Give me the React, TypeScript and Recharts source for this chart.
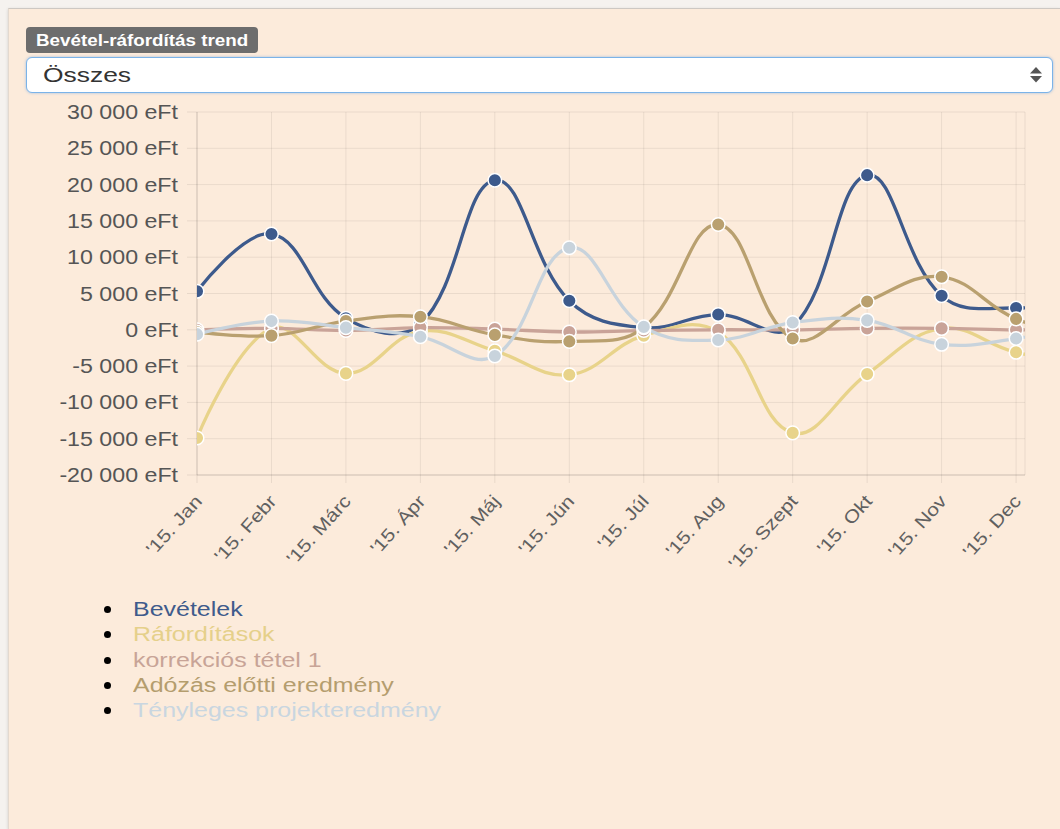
import React from 'react';
import { LineChart, Line, XAxis, YAxis, CartesianGrid } from 'recharts';

// ---- data ----
const months = ["'15. Jan", "'15. Febr", "'15. Márc", "'15. Ápr", "'15. Máj", "'15. Jún", "'15. Júl", "'15. Aug", "'15. Szept", "'15. Okt", "'15. Nov", "'15. Dec", "'16. Jan"];
const bevetelek = [5300, 13200, 1600, 800, 20600, 4000, 300, 2100, 400, 21300, 4700, 3000, 4200];
const raforditasok = [-14900, 200, -6000, -200, -2900, -6200, -800, -300, -14200, -6100, 200, -3100, -4500];
const korrekcio = [0, 200, -100, 300, 100, -300, -100, 0, 0, 200, 200, 0, 0];
const adozas = [-300, -800, 1200, 1800, -700, -1600, 300, 14500, -1200, 3900, 7300, 1500, -1000];
const tenyleges = [-600, 1200, 300, -950, -3600, 11300, 400, -1400, 1000, 1300, -2000, -1200, 800];
const yTicks = [30000, 25000, 20000, 15000, 10000, 5000, 0, -5000, -10000, -15000, -20000];
const xTicks = [0, 1, 2, 3, 4, 5, 6, 7, 8, 9, 10, 11];

const seriesNames = ['Bevételek', 'Ráfordítások', 'korrekciós tétel 1', 'Adózás előtti eredmény', 'Tényleges projekteredmény'];
const seriesKeys = ['bev', 'raf', 'kor', 'ado', 'teny'];
const seriesValues = [bevetelek, raforditasok, korrekcio, adozas, tenyleges];
const lineColors = ['#3d5a8c', '#e8d38a', '#c9a398', '#b9a06f', '#c8d3dc'];
const legendColors = ['#3f5b8c', '#e5d08a', '#c8a497', '#b49d6e', '#c9d6e0'];

const data = months.map((m, i) => {
  const row: any = { i, label: m };
  seriesKeys.forEach((k, s) => { row[k] = seriesValues[s][i]; });
  return row;
});

const fmt = (v: number) => {
  const s = Math.abs(v).toString().replace(/\B(?=(\d{3})+(?!\d))/g, ' ');
  return (v < 0 ? '-' : '') + s + ' eFt';
};

// Chart.js v1 style bezier spline (tension 0.4)
function splineCurve(context: any) {
  let pts: [number, number][] = [];
  return {
    areaStart() {},
    areaEnd() {},
    lineStart() { pts = []; },
    lineEnd() {
      const n = pts.length;
      if (!n) return;
      const t = 0.4;
      const cps = pts.map((p, i) => {
        if (i === 0 || i === n - 1) return { ix: p[0], iy: p[1], ox: p[0], oy: p[1] };
        const a = pts[i - 1];
        const b = pts[i + 1];
        const d01 = Math.hypot(p[0] - a[0], p[1] - a[1]);
        const d12 = Math.hypot(b[0] - p[0], b[1] - p[1]);
        const sum = d01 + d12 || 1;
        const fa = (t * d01) / sum;
        const fb = (t * d12) / sum;
        return {
          ix: p[0] - fa * (b[0] - a[0]),
          iy: p[1] - fa * (b[1] - a[1]),
          ox: p[0] + fb * (b[0] - a[0]),
          oy: p[1] + fb * (b[1] - a[1]),
        };
      });
      context.moveTo(pts[0][0], pts[0][1]);
      for (let i = 1; i < n; i++) {
        context.bezierCurveTo(cps[i - 1].ox, cps[i - 1].oy, cps[i].ix, cps[i].iy, pts[i][0], pts[i][1]);
      }
    },
    point(x: number, y: number) { pts.push([+x, +y]); },
  };
}

const FONT = '"Liberation Sans", Arial, Helvetica, sans-serif';

const YTick = (props: any) => {
  const { x, y, payload } = props;
  return (
    <g transform={`translate(${x + 2}, ${y}) scale(1.19, 1)`}>
      <text x={0} y={0} dy="0.36em" textAnchor="end" fill="#555" fontSize={19.5} fontFamily={FONT}>
        {fmt(payload.value)}
      </text>
    </g>
  );
};

const XTick = (props: any) => {
  const { x, y, payload } = props;
  const ax = x + 6;
  const ay = y + 17;
  return (
    <g transform={`translate(${ax}, ${ay}) rotate(-48) scale(1.17, 1)`}>
      <text x={0} y={0} textAnchor="end" fill="#606060" fontSize={18} fontFamily={FONT}>
        {months[payload.value]}
      </text>
    </g>
  );
};

const stretch = (sx: number): React.CSSProperties => ({ display: 'inline-block', transform: `scaleX(${sx})`, transformOrigin: 'left center' });

export default function App() {
  return (
    <div style={{ position: 'fixed', left: 0, top: 0, width: 1060, height: 829, background: '#f5f2ef', overflow: 'hidden', fontFamily: FONT }}>
      <div style={{ position: 'absolute', left: 8, top: 8, width: 1052, height: 821, background: '#fcebdb', borderTop: '1px solid #cdc8c3', borderLeft: '1px solid #e3d9cf', boxShadow: '0 1px 3px rgba(0,0,0,0.15)', boxSizing: 'border-box' }} />
      {/* badge */}
      <div style={{ position: 'absolute', left: 26, top: 27, width: 232, height: 26, background: '#6d6d6d', borderRadius: 4, color: '#fff', fontWeight: 'bold', fontSize: 16.5, lineHeight: '26px', paddingLeft: 10, boxSizing: 'border-box', whiteSpace: 'nowrap' }}>
        <span style={stretch(1.14)}>Bevétel-ráfordítás trend</span>
      </div>
      {/* select */}
      <div style={{ position: 'absolute', left: 26, top: 57, width: 1027, height: 36, background: '#fff', border: '1px solid #7bb3e8', borderRadius: 6, boxShadow: '0 0 3px rgba(100,160,230,0.6)', boxSizing: 'border-box', display: 'flex', alignItems: 'center' }}>
        <span style={{ ...stretch(1.32), marginLeft: 16, fontSize: 20, color: '#333' }}>Összes</span>
        <svg width={14} height={18} style={{ position: 'absolute', left: 1002, top: 8 }}>
          <polygon points="7,1 13,7.5 1,7.5" fill="#555" />
          <polygon points="1,10 13,10 7,16.5" fill="#555" />
        </svg>
      </div>
      {/* chart */}
      <div style={{ position: 'absolute', left: 0, top: 100 }}>
        <LineChart width={1060} height={480} data={data} margin={{ top: 12, right: 35, bottom: 0, left: 0 }}>
          <CartesianGrid stroke="rgba(0,0,0,0.07)" strokeWidth={1} />
          <XAxis
            dataKey="i"
            type="number"
            domain={[0, 11.12]}
            allowDataOverflow
            ticks={xTicks}
            interval={0}
            height={105}
            tickSize={8}
            tickMargin={2}
            tick={<XTick />}
            axisLine={{ stroke: 'rgba(0,0,0,0.12)' }}
            tickLine={{ stroke: 'rgba(0,0,0,0.08)' }}
          />
          <YAxis
            type="number"
            domain={[-20000, 30000]}
            ticks={yTicks}
            interval={0}
            width={197}
            tickSize={10}
            tickMargin={11}
            tick={<YTick />}
            axisLine={{ stroke: 'rgba(0,0,0,0.12)' }}
            tickLine={{ stroke: 'rgba(0,0,0,0.08)' }}
          />
          {seriesKeys.map((k, s) => (
            <Line
              key={k}
              dataKey={k}
              name={seriesNames[s]}
              type={splineCurve as any}
              stroke={lineColors[s]}
              strokeWidth={3.3}
              dot={{ r: 6.8, fill: lineColors[s], stroke: '#fff', strokeWidth: 1.5 }}
              activeDot={false}
              isAnimationActive={false}
            />
          ))}
        </LineChart>
      </div>
      {/* legend */}
      <div style={{ position: 'absolute', left: 0, top: 597 }}>
        {seriesNames.map((n, s) => (
          <div key={n} style={{ position: 'relative', height: 25.3, lineHeight: '25.3px', whiteSpace: 'nowrap' }}>
            <span style={{ position: 'absolute', left: 104, top: 9, width: 7, height: 7, borderRadius: '50%', background: '#000' }} />
            <span style={{ ...stretch(1.28), position: 'absolute', left: 133, top: 0, fontSize: 19.5, color: legendColors[s] }}>{n}</span>
          </div>
        ))}
      </div>
    </div>
  );
}
